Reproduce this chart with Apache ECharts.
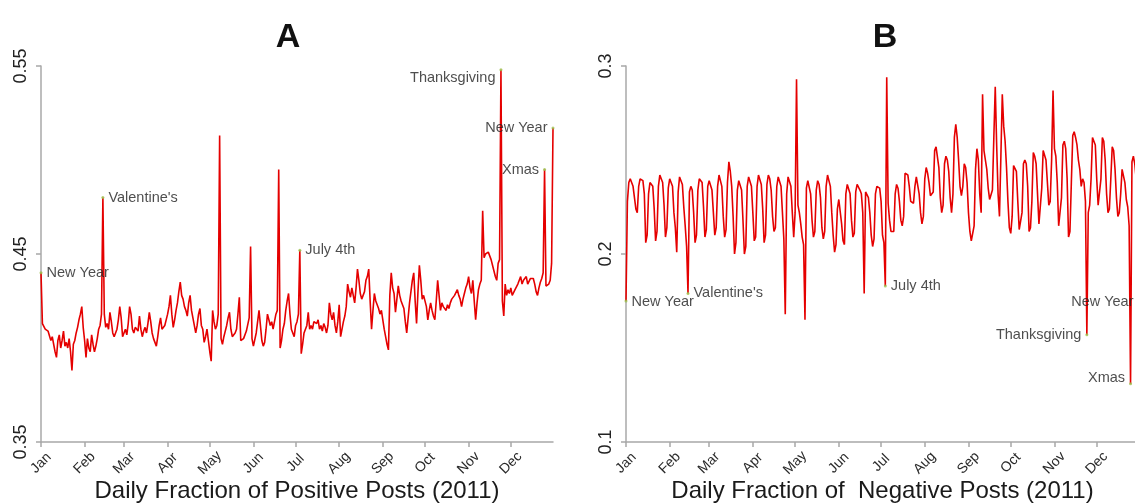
<!DOCTYPE html>
<html>
<head>
<meta charset="utf-8">
<script src="https://cdn.jsdelivr.net/npm/echarts@6/dist/echarts.min.js"></script>
<style>
  html, body { margin: 0; padding: 0; background: #fff; }
  #chart { width: 1135px; height: 504px; }
</style>
</head>
<body>
<div id="chart"></div>
<script>
// month tick labels and the day index where each month starts (2011, Jan 1 = Saturday)
var MONTHS = ['Jan', 'Feb', 'Mar', 'Apr', 'May', 'Jun', 'Jul', 'Aug', 'Sep', 'Oct', 'Nov', 'Dec'];
var MONTH_START = [0, 31, 59, 90, 120, 151, 181, 212, 243, 273, 304, 334];

// daily fraction of positive posts, one row per week (Sat .. Fri)
var positive = [
  0.440, 0.413, 0.412, 0.410, 0.411, 0.409, 0.410,
  0.404, 0.406, 0.402, 0.398, 0.395, 0.404, 0.407,
  0.400, 0.404, 0.409, 0.401, 0.403, 0.400, 0.405,
  0.398, 0.388, 0.402, 0.404, 0.408, 0.411, 0.415,
  0.418, 0.422, 0.411, 0.404, 0.395, 0.405, 0.400,
  0.398, 0.407, 0.402, 0.398, 0.401, 0.405, 0.410,
  0.412, 0.418, 0.480, 0.418, 0.411, 0.413, 0.410,
  0.419, 0.414, 0.408, 0.406, 0.407, 0.410, 0.415,
  0.422, 0.416, 0.406, 0.408, 0.410, 0.407, 0.413,
  0.422, 0.418, 0.410, 0.408, 0.411, 0.412, 0.409,
  0.417, 0.410, 0.406, 0.409, 0.411, 0.408, 0.413,
  0.419, 0.414, 0.408, 0.405, 0.403, 0.401, 0.406,
  0.412, 0.416, 0.410, 0.409, 0.412, 0.413, 0.418,
  0.422, 0.428, 0.418, 0.411, 0.415, 0.420, 0.424,
  0.430, 0.435, 0.428, 0.426, 0.422, 0.420, 0.417,
  0.424, 0.428, 0.420, 0.416, 0.412, 0.408, 0.412,
  0.418, 0.421, 0.412, 0.410, 0.403, 0.406, 0.410,
  0.404, 0.398, 0.393, 0.420, 0.414, 0.410, 0.412,
  0.418, 0.513, 0.405, 0.402, 0.406, 0.409, 0.412,
  0.416, 0.419, 0.410, 0.406, 0.406, 0.408, 0.410,
  0.418, 0.427, 0.404, 0.404, 0.405, 0.406, 0.409,
  0.410, 0.416, 0.454, 0.405, 0.401, 0.400, 0.408,
  0.414, 0.420, 0.412, 0.404, 0.401, 0.403, 0.410,
  0.418, 0.415, 0.412, 0.414, 0.410, 0.409, 0.418,
  0.420, 0.495, 0.400, 0.404, 0.410, 0.413, 0.420,
  0.425, 0.429, 0.418, 0.410, 0.408, 0.406, 0.412,
  0.414, 0.418, 0.452, 0.397, 0.402, 0.408, 0.409,
  0.412, 0.419, 0.410, 0.412, 0.410, 0.414, 0.415,
  0.413, 0.415, 0.410, 0.412, 0.409, 0.413, 0.411,
  0.408, 0.412, 0.424, 0.418, 0.415, 0.419, 0.412,
  0.408, 0.414, 0.423, 0.406, 0.410, 0.414, 0.417,
  0.422, 0.434, 0.430, 0.427, 0.432, 0.428, 0.424,
  0.432, 0.442, 0.436, 0.429, 0.426, 0.428, 0.430,
  0.436, 0.438, 0.442, 0.425, 0.410, 0.420, 0.429,
  0.425, 0.423, 0.421, 0.418, 0.420, 0.415, 0.410,
  0.406, 0.402, 0.399, 0.428, 0.440, 0.432, 0.429,
  0.419, 0.426, 0.433, 0.428, 0.425, 0.423, 0.421,
  0.414, 0.408, 0.416, 0.424, 0.430, 0.436, 0.440,
  0.425, 0.413, 0.430, 0.444, 0.436, 0.426, 0.428,
  0.427, 0.422, 0.415, 0.420, 0.424, 0.420, 0.417,
  0.415, 0.425, 0.436, 0.428, 0.420, 0.424, 0.422,
  0.421, 0.420, 0.423, 0.421, 0.424, 0.426, 0.425,
  0.428, 0.429, 0.431, 0.428, 0.426, 0.422, 0.426,
  0.429, 0.432, 0.434, 0.438, 0.432, 0.429, 0.436,
  0.425, 0.415, 0.424, 0.431, 0.434, 0.436, 0.473,
  0.448, 0.450, 0.449, 0.451, 0.449, 0.447, 0.444,
  0.444, 0.438, 0.436, 0.445, 0.447, 0.548, 0.425,
  0.417, 0.434, 0.428, 0.431, 0.429, 0.432, 0.428,
  0.427, 0.431, 0.430, 0.434, 0.436, 0.438, 0.434,
  0.436, 0.437, 0.438, 0.434, 0.435, 0.437, 0.438,
  0.437, 0.434, 0.430, 0.428, 0.432, 0.435, 0.437,
  0.440, 0.495, 0.433, 0.432, 0.434, 0.436, 0.445,
  0.517
];

// daily fraction of negative posts, one row per week (Sat .. Fri)
var negative = [
  0.175, 0.228, 0.238, 0.240, 0.239, 0.236, 0.230,
  0.224, 0.222, 0.236, 0.240, 0.241, 0.239, 0.232,
  0.206, 0.210, 0.232, 0.238, 0.239, 0.236, 0.224,
  0.207, 0.212, 0.236, 0.242, 0.241, 0.238, 0.226,
  0.209, 0.214, 0.235, 0.240, 0.240, 0.236, 0.222,
  0.214, 0.201, 0.233, 0.241, 0.240, 0.237, 0.225,
  0.215, 0.204, 0.179, 0.233, 0.236, 0.234, 0.222,
  0.206, 0.210, 0.234, 0.240, 0.241, 0.238, 0.225,
  0.209, 0.213, 0.236, 0.239, 0.238, 0.234, 0.222,
  0.210, 0.214, 0.236, 0.242, 0.241, 0.236, 0.220,
  0.209, 0.213, 0.238, 0.249, 0.244, 0.236, 0.220,
  0.200, 0.206, 0.234, 0.239, 0.239, 0.234, 0.218,
  0.200, 0.204, 0.236, 0.241, 0.240, 0.236, 0.222,
  0.207, 0.209, 0.236, 0.242, 0.241, 0.237, 0.224,
  0.206, 0.210, 0.237, 0.242, 0.240, 0.234, 0.220,
  0.212, 0.214, 0.236, 0.241, 0.240, 0.236, 0.222,
  0.208, 0.168, 0.232, 0.241, 0.240, 0.236, 0.222,
  0.209, 0.222, 0.293, 0.226, 0.222, 0.216, 0.209,
  0.205, 0.165, 0.235, 0.239, 0.238, 0.232, 0.218,
  0.209, 0.212, 0.234, 0.239, 0.237, 0.230, 0.214,
  0.208, 0.212, 0.236, 0.242, 0.241, 0.236, 0.222,
  0.210, 0.201, 0.205, 0.224, 0.229, 0.228, 0.216,
  0.207, 0.205, 0.232, 0.237, 0.236, 0.232, 0.218,
  0.209, 0.211, 0.233, 0.237, 0.236, 0.234, 0.232,
  0.222, 0.179, 0.233, 0.234, 0.230, 0.222, 0.210,
  0.204, 0.208, 0.232, 0.236, 0.236, 0.235, 0.228,
  0.210, 0.206, 0.183, 0.294, 0.227, 0.218, 0.212,
  0.211, 0.212, 0.232, 0.237, 0.235, 0.228, 0.218,
  0.215, 0.220, 0.243, 0.242, 0.242, 0.236, 0.228,
  0.228, 0.227, 0.236, 0.241, 0.240, 0.232, 0.222,
  0.216, 0.220, 0.240, 0.246, 0.243, 0.238, 0.231,
  0.230, 0.233, 0.255, 0.257, 0.256, 0.246, 0.230,
  0.222, 0.226, 0.248, 0.252, 0.250, 0.244, 0.230,
  0.222, 0.232, 0.262, 0.269, 0.262, 0.250, 0.236,
  0.231, 0.236, 0.248, 0.246, 0.238, 0.222, 0.212,
  0.207, 0.206, 0.215, 0.245, 0.256, 0.250, 0.232,
  0.222, 0.285, 0.255, 0.250, 0.245, 0.235, 0.229,
  0.229, 0.234, 0.262, 0.289, 0.258, 0.232, 0.220,
  0.252, 0.285, 0.268, 0.260, 0.246, 0.228, 0.214,
  0.211, 0.220, 0.247, 0.248, 0.244, 0.228, 0.213,
  0.213, 0.222, 0.248, 0.250, 0.248, 0.236, 0.212,
  0.214, 0.228, 0.254, 0.252, 0.248, 0.232, 0.216,
  0.217, 0.235, 0.255, 0.254, 0.250, 0.238, 0.226,
  0.228, 0.250, 0.287, 0.256, 0.252, 0.238, 0.215,
  0.215, 0.230, 0.258, 0.260, 0.256, 0.240, 0.209,
  0.212, 0.238, 0.263, 0.265, 0.262, 0.258, 0.250,
  0.245, 0.236, 0.240, 0.238, 0.228, 0.157, 0.222,
  0.226, 0.240, 0.262, 0.263, 0.258, 0.240, 0.226,
  0.226, 0.240, 0.262, 0.260, 0.250, 0.232, 0.222,
  0.224, 0.240, 0.257, 0.255, 0.245, 0.230, 0.220,
  0.222, 0.232, 0.245, 0.244, 0.238, 0.229, 0.225,
  0.215, 0.131, 0.249, 0.252, 0.248, 0.240, 0.230,
  0.175
];

// labelled days: day index, label side, label nudge
var posHolidays = [
  { name: 'New Year', day: 0, side: 'right', dy: 0 },
  { name: "Valentine's", day: 44, side: 'right', dy: 0 },
  { name: 'July 4th', day: 184, side: 'right', dy: 0 },
  { name: 'Thanksgiving', day: 327, side: 'left', dy: 8 },
  { name: 'Xmas', day: 358, side: 'left', dy: 1 },
  { name: 'New Year', day: 364, side: 'left', dy: 0 }
];
var negHolidays = [
  { name: 'New Year', day: 0, side: 'right', dy: 1 },
  { name: "Valentine's", day: 44, side: 'right', dy: 0 },
  { name: 'July 4th', day: 184, side: 'right', dy: 0 },
  { name: 'Thanksgiving', day: 327, side: 'left', dy: 0 },
  { name: 'Xmas', day: 358, side: 'left', dy: -6 },
  { name: 'New Year', day: 364, side: 'left', dy: 1 }
];

var days = [];
for (var i = 0; i < 365; i++) days.push(i);

var FONT = '"Liberation Sans", Arial, sans-serif';
var AXIS_GREY = '#a8a8a8';
var LINE_RED = '#e50000';

function isMonthStart(index) {
  return MONTH_START.indexOf(index) >= 0;
}

function xAxisFor(gridIndex, name) {
  return {
    type: 'category',
    gridIndex: gridIndex,
    data: days,
    boundaryGap: false,
    name: name,
    nameLocation: 'middle',
    nameGap: 37,
    nameMoveOverlap: false,
    nameTextStyle: { fontFamily: FONT, fontSize: 24, color: '#1a1a1a' },
    axisLine: { lineStyle: { color: AXIS_GREY, width: 1.5 } },
    axisTick: { interval: isMonthStart, length: 5, lineStyle: { color: AXIS_GREY, width: 1.5 } },
    axisLabel: {
      interval: isMonthStart,
      rotate: 45,
      align: 'center',
      verticalAlign: 'middle',
      margin: 21,
      fontFamily: FONT,
      fontSize: 14,
      color: '#2a2a2a',
      formatter: function (value) {
        return MONTHS[MONTH_START.indexOf(Number(value))];
      }
    },
    splitLine: { show: false }
  };
}

function yAxisFor(gridIndex, min, max, ticks) {
  return {
    type: 'value',
    gridIndex: gridIndex,
    min: min,
    max: max,
    axisLine: { show: true, lineStyle: { color: AXIS_GREY, width: 1.5 } },
    axisTick: { show: true, customValues: ticks, length: 5, lineStyle: { color: AXIS_GREY, width: 1.5 } },
    axisLabel: {
      customValues: ticks,
      rotate: 90,
      margin: 11,
      fontFamily: FONT,
      fontSize: 18,
      color: '#222'
    },
    splitLine: { show: false }
  };
}

function lineSeries(axisIndex, values) {
  return {
    type: 'line',
    xAxisIndex: axisIndex,
    yAxisIndex: axisIndex,
    data: values,
    symbol: 'none',
    smooth: false,
    lineStyle: { color: LINE_RED, width: 1.6 },
    silent: true,
    z: 2
  };
}

function holidaySeries(axisIndex, values, holidays) {
  return {
    type: 'scatter',
    xAxisIndex: axisIndex,
    yAxisIndex: axisIndex,
    symbol: 'circle',
    symbolSize: 3,
    itemStyle: { color: '#9bbf4a' },
    silent: true,
    z: 3,
    data: holidays.map(function (h) {
      return {
        name: h.name,
        value: [h.day, values[h.day]],
        label: { position: h.side, offset: [0, h.dy] }
      };
    }),
    label: {
      show: true,
      formatter: '{b}',
      distance: 4,
      fontFamily: FONT,
      fontSize: 14.5,
      color: '#222'
    }
  };
}

var chart = echarts.init(document.getElementById('chart'), null, { renderer: 'canvas' });

var option = {
  animation: false,
  backgroundColor: '#fff',
  title: [
    { text: 'A', left: 283, top: 16, textAlign: 'center',
      textStyle: { fontFamily: FONT, fontSize: 34, fontWeight: 'bold', color: '#111' } },
    { text: 'B', left: 880, top: 16, textAlign: 'center',
      textStyle: { fontFamily: FONT, fontSize: 34, fontWeight: 'bold', color: '#111' } }
  ],
  grid: [
    { left: 41, top: 66, width: 512, height: 376, outerBoundsMode: 'none', containLabel: false },
    { left: 626, top: 66, width: 513, height: 376, outerBoundsMode: 'none', containLabel: false }
  ],
  xAxis: [
    xAxisFor(0, 'Daily Fraction of Positive Posts (2011)'),
    xAxisFor(1, 'Daily Fraction of  Negative Posts (2011)')
  ],
  yAxis: [
    yAxisFor(0, 0.35, 0.55, [0.35, 0.45, 0.55]),
    yAxisFor(1, 0.1, 0.3, [0.1, 0.2, 0.3])
  ],
  series: [
    lineSeries(0, positive),
    lineSeries(1, negative),
    holidaySeries(0, positive, posHolidays),
    holidaySeries(1, negative, negHolidays)
  ]
};

chart.setOption(option);
</script>
</body>
</html>
